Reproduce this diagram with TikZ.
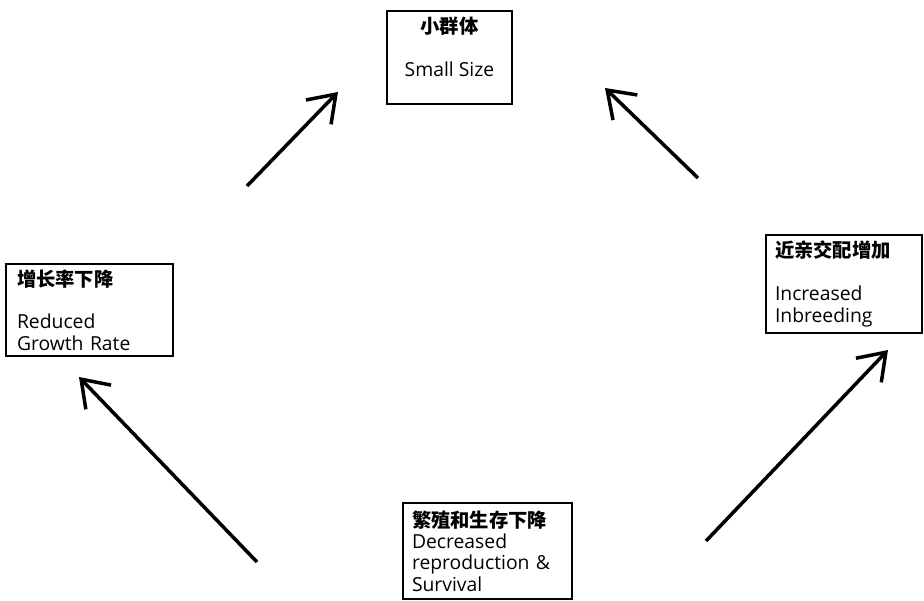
\documentclass[tikz,border=0pt]{standalone}
\usepackage{fontspec}
\setmainfont{Open Sans}
\newfontfamily\cjk{Noto Sans CJK SC}
\usetikzlibrary{positioning,arrows.meta}

\begin{document}
\begin{tikzpicture}[x=0.02cm, y=-0.02cm,
    box/.style={draw, line width=1.2pt, inner xsep=0.18cm, align=left,
        font=\fontsize{11}{12.2}\selectfont},
    link/.style={-{Straight Barb[length=5mm, width=7mm]}, line width=2pt}]

    \useasboundingbox (0,0) rectangle (924,601);

    \node[box, align=center, minimum width=2.5cm, minimum height=1.82cm] (small) at (449.5,57.5)
        {{\cjk\bfseries 小群体}\\[12.2pt]Small Size\\\mbox{}};
    \node[box, text width=2.9cm, inner xsep=0.22cm, minimum height=1.84cm] (growth) at (89.5,310)
        {{\cjk\bfseries 增长率下降}\\[12.2pt]Reduced\\Growth Rate};
    \node[box, text width=2.76cm, minimum height=1.84cm] (inbreed) at (844,284)
        {{\cjk\bfseries 近亲交配增加}\\[12.2pt]Increased\\Inbreeding};
    \node[box, text width=3.02cm, minimum height=1.92cm] (repro) at (487.5,551)
        {{\cjk\bfseries 繁殖和生存下降}\\Decreased\\reproduction \&\\Survival};

    \coordinate (t1) at (247,186);
    \coordinate (h1) at (338,92);
    \coordinate (t2) at (698,178);
    \coordinate (h2) at (605,88);
    \coordinate (t3) at (257,562);
    \coordinate (h3) at (79,377);
    \coordinate (t4) at (706,541);
    \coordinate (h4) at (888,350);

    \path[link]
        (t1) edge (h1)
        (t2) edge (h2)
        (t3) edge (h3)
        (t4) edge (h4);

\end{tikzpicture}
\end{document}
